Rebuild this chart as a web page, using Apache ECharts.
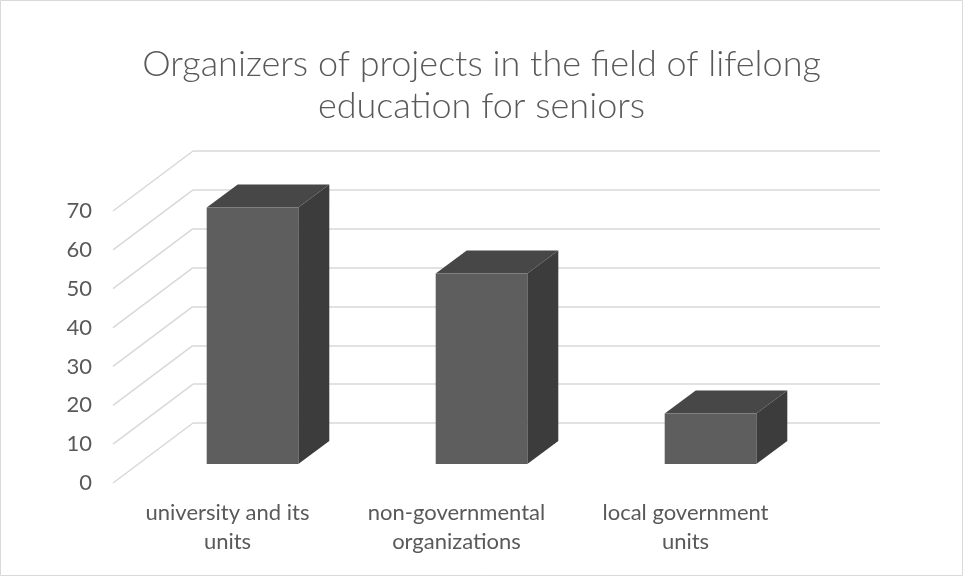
<!DOCTYPE html>
<html>
<head>
<meta charset="utf-8">
<script src="https://cdn.jsdelivr.net/npm/echarts@6/dist/echarts.min.js"></script>
<style>
  html, body { margin: 0; padding: 0; background: #ffffff; }
  #chart { width: 963px; height: 576px; }
</style>
</head>
<body>
<div id="chart"></div>
<script>
// ---- data ----
const categories = ['university and its\nunits', 'non-governmental\norganizations', 'local government\nunits'];
const projectCounts = [66, 49, 13];
const valueTicks = [0, 10, 20, 30, 40, 50, 60, 70];
const titleLines = ['Organizers of projects in the field of lifelong', 'education for seniors'];

// ---- oblique 3D layout: front axis plane, bar plane, back wall ----
const FRONT = { left: 113, right: 163, top: 211, bottom: 93 };
const BAR_SHIFT = [25, -19];   // bar front faces sit this far behind the axis plane
const WALL_SHIFT = [80, -60];  // back wall offset from the axis plane
const DEPTH = [31, -23];       // depth of each box
const BAR_RATIO = 0.4;

const FONT = 'Lato, "Open Sans", sans-serif';
const TEXT = '#595959';
const GRID_LINE = '#d9d9d9';

function shifted(plane, s) {
  return {
    left: plane.left + s[0],
    right: plane.right - s[0],
    top: plane.top + s[1],
    bottom: plane.bottom - s[1]
  };
}

const valueAxis = (extra) => Object.assign({
  type: 'value', min: valueTicks[0], max: valueTicks[valueTicks.length - 1], interval: 10,
  axisLine: { show: false }, axisTick: { show: false },
  splitLine: { show: false }, axisLabel: { show: false }
}, extra);

const catAxis = (extra) => Object.assign({
  type: 'category', data: categories,
  axisLine: { show: false }, axisTick: { show: false },
  splitLine: { show: false }, axisLabel: { show: false }
}, extra);

const chart = echarts.init(document.getElementById('chart'), null, { renderer: 'canvas' });

chart.setOption({
  backgroundColor: '#ffffff',
  animation: false,
  title: {
    text: titleLines.join('\n'),
    left: 'center',
    top: 38,
    textStyle: { fontFamily: FONT, fontSize: 36, fontWeight: 300, color: TEXT, lineHeight: 42 }
  },
  graphic: [{
    type: 'rect', silent: true,
    shape: { x: 0.5, y: 0.5, width: 962, height: 575 },
    style: { fill: 'none', stroke: GRID_LINE, lineWidth: 1 }
  }],
  grid: [
    Object.assign({}, FRONT),
    shifted(FRONT, BAR_SHIFT),
    shifted(FRONT, WALL_SHIFT)
  ],
  xAxis: [
    catAxis({
      gridIndex: 0,
      axisLabel: { show: true, interval: 0, margin: 15, fontFamily: FONT, fontSize: 22, lineHeight: 29, color: TEXT }
    }),
    catAxis({ gridIndex: 1 }),
    catAxis({ gridIndex: 2 })
  ],
  yAxis: [
    valueAxis({
      gridIndex: 0,
      axisLabel: { show: true, margin: 21, fontFamily: FONT, fontSize: 22, color: TEXT }
    }),
    valueAxis({ gridIndex: 1 }),
    valueAxis({
      gridIndex: 2,
      splitLine: { show: true, lineStyle: { color: GRID_LINE, width: 1.5 } }
    })
  ],
  series: [
    {
      // receding gridlines from the value axis to the back wall
      type: 'custom',
      xAxisIndex: 0, yAxisIndex: 0,
      clip: false, silent: true,
      data: valueTicks.map(v => [0, v]),
      renderItem: function (params, api) {
        const cs = params.coordSys;
        const y = api.coord([0, api.value(1)])[1];
        return {
          type: 'line',
          shape: { x1: cs.x, y1: y, x2: cs.x + WALL_SHIFT[0], y2: y + WALL_SHIFT[1] },
          style: { stroke: GRID_LINE, lineWidth: 1.5 }
        };
      }
    },
    {
      type: 'custom',
      name: 'projects',
      xAxisIndex: 1, yAxisIndex: 1,
      clip: false,
      data: projectCounts.map((v, i) => [i, v]),
      renderItem: function (params, api) {
        const i = api.value(0);
        const base = api.coord([i, 0]);
        const top = api.coord([i, api.value(1)]);
        const w = api.size([1, 0])[0] * BAR_RATIO;
        const x0 = base[0] - w / 2, x1 = base[0] + w / 2;
        const yt = top[1], yb = base[1];
        const dx = DEPTH[0], dy = DEPTH[1];
        return {
          type: 'group',
          children: [
            {
              type: 'polygon',
              shape: { points: [[x1, yt], [x1, yb], [x1 + dx, yb + dy], [x1 + dx, yt + dy]] },
              style: { fill: '#3c3c3c' }
            },
            {
              type: 'polygon',
              shape: { points: [[x0, yt], [x1, yt], [x1 + dx, yt + dy], [x0 + dx, yt + dy]] },
              style: { fill: '#474747' }
            },
            {
              type: 'rect',
              shape: { x: x0, y: yt, width: w, height: yb - yt },
              style: { fill: '#5e5e5e' }
            }
          ]
        };
      }
    }
  ]
});
</script>
</body>
</html>
